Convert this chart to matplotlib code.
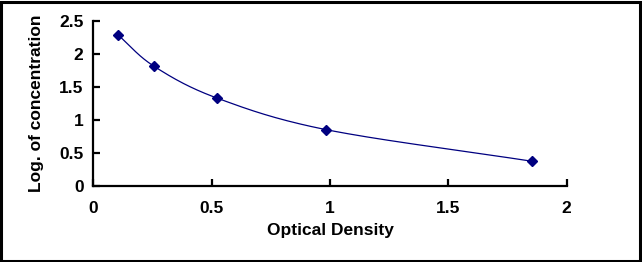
import numpy as np
import matplotlib
matplotlib.use('Agg')
import matplotlib.pyplot as plt
from matplotlib.patches import Rectangle

# valores
densidad = [0.104, 0.258, 0.523, 0.985, 1.852]
log_conc = [2.29, 1.81, 1.33, 0.85, 0.372]
ticks_x = [0, 0.5, 1, 1.5, 2]
ticks_y = [0, 0.5, 1, 1.5, 2, 2.5]

color = '#000080'
plt.rcParams['font.family'] = ['Liberation Sans', 'DejaVu Sans']
plt.rcParams['font.weight'] = 'bold'


def curva_suave(xs, ys, n=40):
    # spline tipo Catmull-Rom, parecido al "suavizado" de Excel
    x = np.array(xs, dtype=float)
    y = np.array(ys, dtype=float)
    px = np.concatenate([[2 * x[0] - x[1]], x, [2 * x[-1] - x[-2]]])
    py = np.concatenate([[2 * y[0] - y[1]], y, [2 * y[-1] - y[-2]]])
    cx, cy = [], []
    t = np.linspace(0, 1, n)
    for i in range(1, len(px) - 2):
        for p, out in ((px, cx), (py, cy)):
            p0, p1, p2, p3 = p[i - 1], p[i], p[i + 1], p[i + 2]
            out.extend(0.5 * ((2 * p1) + (-p0 + p2) * t
                              + (2 * p0 - 5 * p1 + 4 * p2 - p3) * t ** 2
                              + (-p0 + 3 * p1 - 3 * p2 + p3) * t ** 3))
    return cx, cy


fig = plt.figure(figsize=(6.42, 2.62), dpi=100)
ax = fig.add_axes([0.1453, 0.2912, 0.7374, 0.6286])

cx, cy = curva_suave(densidad, log_conc)
ax.plot(cx, cy, color=color, linewidth=0.9)
ax.plot(densidad, log_conc, linestyle='none', marker='D', markersize=5,
        color=color)

ax.set_xlim(0, 2)
ax.set_ylim(0, 2.5)
ax.set_xticks(ticks_x)
ax.set_xticklabels(['0', '0.5', '1', '1.5', '2'], fontweight='bold', fontsize=12.5)
ax.set_yticks(ticks_y)
ax.set_yticklabels(['0', '0.5', '1', '1.5', '2', '2.5'], fontweight='bold', fontsize=12.5)
ax.spines['top'].set_visible(False)
ax.spines['right'].set_visible(False)
ax.spines['left'].set_linewidth(1.6)
ax.spines['bottom'].set_linewidth(1.6)
ax.tick_params(axis='both', direction='in', length=5, width=1.6)
ax.tick_params(axis='x', pad=11)
ax.tick_params(axis='y', pad=7)

ax.set_xlabel('Optical Density', fontsize=12.5, fontweight='bold', labelpad=5)
ax.set_ylabel('Log. of concentration', fontsize=12.5, fontweight='bold', labelpad=11)

fig.patches.append(Rectangle((0.002, 0.004), 0.995, 0.99, transform=fig.transFigure,
                             fill=False, edgecolor='black', linewidth=2.2))

plt.savefig('out.png', dpi=100)
plt.close()
